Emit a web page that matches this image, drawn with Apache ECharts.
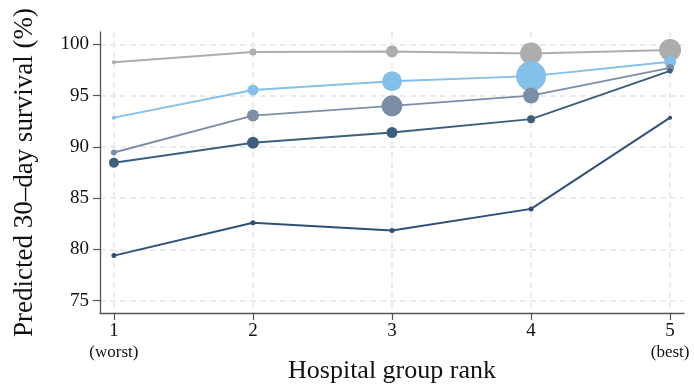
<!DOCTYPE html>
<html>
<head>
<meta charset="utf-8">
<script src="https://cdn.jsdelivr.net/npm/echarts@6/dist/echarts.min.js"></script>
<style>html,body{margin:0;padding:0;background:#fff}#c{width:694px;height:385px}</style>
</head>
<body>
<div id="c"></div>
<script>
var ranks = [1, 2, 3, 4, 5];
var rankLabels = ['1\n{s|(worst)}', '2', '3', '4', '5\n{s|(best)}'];
var yTicks = [75, 80, 85, 90, 95, 100];

var seriesA = [98.25, 99.25, 99.3, 99.1, 99.45];
var seriesB = [92.85, 95.55, 96.4, 96.9, 98.3];
var seriesC = [89.45, 93.05, 94.0, 95.0, 97.7];
var seriesD = [88.45, 90.4, 91.4, 92.7, 97.4];
var seriesE = [79.4, 82.6, 81.85, 83.95, 92.85];

var sizeA = [4, 7, 12, 22, 22];
var sizeB = [4, 11, 20, 30, 12];
var sizeC = [6, 12, 21, 16, 8];
var sizeD = [10, 12, 11, 8, 5];
var sizeE = [5, 5, 5, 5, 4];

var colors = ['#adadad', '#84c0e9', '#7a8fa6', '#3b5f7d', '#2d5079'];
var allSeries = [seriesA, seriesB, seriesC, seriesD, seriesE];
var allSizes = [sizeA, sizeB, sizeC, sizeD, sizeE];

var font = '"Liberation Serif", "DejaVu Serif", serif';

function build(i) {
  var vals = allSeries[i], sizes = allSizes[i];
  return {
    type: 'line',
    data: ranks.map(function (r, k) { return { value: [r, vals[k]], symbolSize: sizes[k] }; }),
    symbol: 'circle',
    showAllSymbol: true,
    lineStyle: { color: colors[i], width: 1.9 },
    itemStyle: { color: colors[i] },
    z: 2 + i,
    animation: false
  };
}

var chart = echarts.init(document.getElementById('c'), null, { renderer: 'canvas' });
chart.setOption({
  animation: false,
  grid: { left: 100, right: 10, top: 32, bottom: 72, containLabel: false, outerBoundsMode: 'none' },
  xAxis: {
    type: 'value', min: 0.9, max: 5.1,
    name: 'Hospital group rank', nameLocation: 'middle', nameGap: 45, nameMoveOverlap: false,
    nameTextStyle: { fontFamily: font, fontSize: 26, color: '#111' },
    axisLine: { show: true, lineStyle: { color: '#555', width: 1.3 } },
    axisTick: { show: true, length: 7, customValues: ranks, lineStyle: { color: '#555', width: 1.2 } },
    axisLabel: {
      customValues: ranks, margin: 7,
      fontFamily: font, fontSize: 19, color: '#111', lineHeight: 22,
      formatter: function (v) { return rankLabels[ranks.indexOf(Math.round(v))]; },
      rich: { s: { fontFamily: font, fontSize: 17, color: '#111', lineHeight: 22 } }
    },
    splitLine: { show: true, lineStyle: { color: '#e6e6e6', width: 1.5, type: [6, 4] } }
  },
  yAxis: {
    type: 'value', min: 73.8, max: 101.2,
    name: 'Predicted 30\u2013day survival (%)', nameLocation: 'middle', nameGap: 62, nameMoveOverlap: false,
    nameTextStyle: { fontFamily: font, fontSize: 27, color: '#111' },
    axisLine: { show: true, lineStyle: { color: '#555', width: 1.3 } },
    axisTick: { show: true, length: 7, customValues: yTicks, lineStyle: { color: '#555', width: 1.2 } },
    axisLabel: { customValues: yTicks, margin: 11, fontFamily: font, fontSize: 19, color: '#111' },
    splitLine: { show: true, lineStyle: { color: '#e6e6e6', width: 1.5, type: [6, 4] } }
  },
  series: [0, 1, 2, 3, 4].map(build)
});
</script>
</body>
</html>
